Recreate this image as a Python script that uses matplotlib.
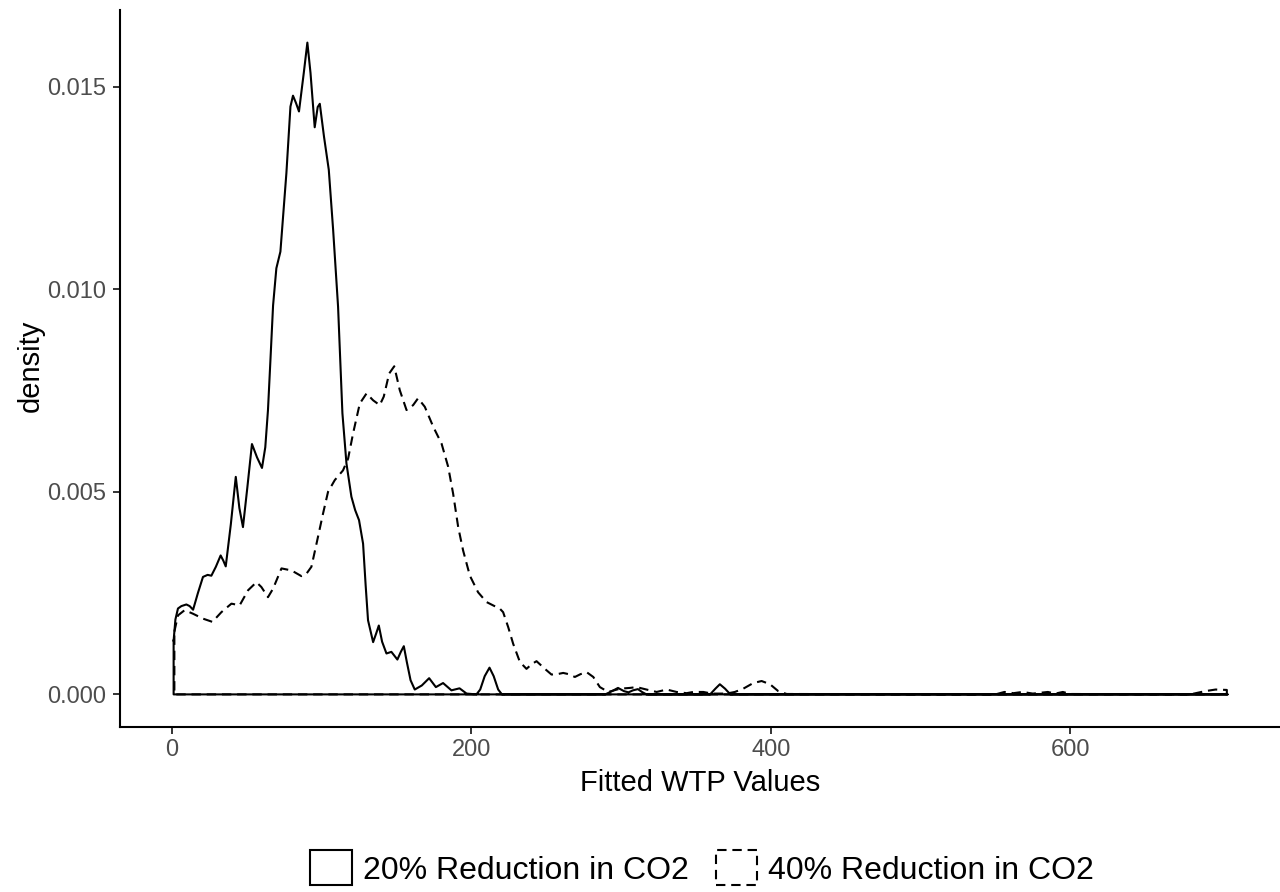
import matplotlib
matplotlib.use("Agg")
import matplotlib.pyplot as plt
from matplotlib.patches import Patch

wtp20_x = [1.3, 2.5, 4.2, 6.5, 9.8, 12, 14.3, 17.5, 20.9, 24, 26.5, 29.5,
           32.7, 34.5, 36.1, 39.5, 42.8, 45.2, 47.6, 50.5, 53.6, 57, 60.3,
           62.5, 64.3, 66, 67.7, 69.9, 72.6, 76.6, 79.3, 81.0, 83, 85.0,
           88.2, 90.6, 92.7, 95.5, 97.5, 98.9, 101.7, 104.9, 107.8, 111.1,
           114.0, 116.7, 120.0, 122.5, 125.1, 127.8, 129.5, 131.1, 134.5,
           136.5, 138.3, 140.5, 143.4, 146.7, 150.7, 153, 155.0, 157, 159.5,
           162.3, 167, 171.9, 176.4, 181.2, 186.8, 192.2, 196.9, 203.5, 206,
           209, 212.2, 215, 218, 220.5, 289.5, 294, 298, 302, 305, 308,
           311.3, 314, 317, 359.5, 363, 366, 369.5, 373, 705]
wtp20_y = [1.33, 1.85, 2.12, 2.18, 2.22, 2.18, 2.09, 2.5, 2.90, 2.95, 2.93,
           3.15, 3.43, 3.3, 3.16, 4.2, 5.37, 4.6, 4.13, 5.1, 6.18, 5.85,
           5.59, 6.1, 7.02, 8.3, 9.6, 10.52, 10.93, 12.87, 14.51, 14.78,
           14.6, 14.39, 15.34, 16.09, 15.34, 14.00, 14.5, 14.58, 13.77,
           12.95, 11.47, 9.57, 6.94, 5.70, 4.88, 4.55, 4.30, 3.72, 2.7, 1.83,
           1.29, 1.5, 1.70, 1.3, 1.01, 1.05, 0.86, 1.05, 1.19, 0.8, 0.35,
           0.12, 0.22, 0.40, 0.18, 0.28, 0.10, 0.15, 0.02, 0.0, 0.12, 0.45,
           0.66, 0.45, 0.12, 0.0, 0.0, 0.08, 0.16, 0.08, 0.05, 0.1, 0.13,
           0.06, 0.0, 0.0, 0.14, 0.25, 0.14, 0.0, 0.0]

wtp40_x = [1.8, 4.2, 8.7, 14.3, 20.9, 27.2, 33.2, 39.9, 45.4, 51.0, 56.6,
           59.9, 64.3, 67.7, 73.3, 80.0, 86.6, 90, 93.3, 96.7, 101.1, 104.4,
           108.9, 114.4, 117.8, 121.1, 125.6, 130.1, 134.5, 138.9, 141.6,
           145.2, 148.6, 152.3, 156.8, 161.2, 164.5, 169, 174.6, 180.2,
           184.6, 187.9, 191.3, 194.6, 199.1, 204.6, 210.2, 215, 219, 221.3,
           224.7, 228, 232.5, 236.9, 240.5, 243.6, 249.2, 253.6, 257.5,
           261.4, 265, 269.2, 273, 277, 281.5, 285.9, 291.5, 299.3, 306,
           310.4, 317, 323.8, 330.5, 337.1, 343.8, 348.2, 355, 360.5, 370.5,
           376, 381.6, 388.3, 393.9, 399.5, 405, 410.6, 550, 556, 562, 568,
           575, 585, 590, 595, 600, 680, 690, 697, 704.5]
wtp40_y = [1.55, 1.95, 2.08, 1.99, 1.87, 1.79, 2.03, 2.24, 2.20, 2.57, 2.77,
           2.65, 2.40, 2.61, 3.11, 3.06, 2.92, 2.98, 3.15, 3.72, 4.47, 5.00,
           5.29, 5.53, 5.82, 6.44, 7.18, 7.43, 7.26, 7.14, 7.35, 7.92, 8.10,
           7.51, 7.02, 7.14, 7.31, 7.10, 6.61, 6.19, 5.62, 4.96, 4.13, 3.55,
           2.93, 2.52, 2.28, 2.19, 2.12, 2.03, 1.66, 1.25, 0.80, 0.63, 0.75,
           0.82, 0.63, 0.49, 0.5, 0.53, 0.5, 0.43, 0.5, 0.55, 0.43, 0.18,
           0.06, 0.14, 0.16, 0.18, 0.12, 0.06, 0.12, 0.06, 0.03, 0.06, 0.06,
           0.02, 0.02, 0.06, 0.14, 0.28, 0.33, 0.25, 0.08, 0.01, 0.0, 0.06,
           0.03, 0.06, 0.02, 0.06, 0.02, 0.06, 0.01, 0.0, 0.08, 0.12, 0.11]

series_labels = ["20% Reduction in CO2", "40% Reduction in CO2"]
x_ticks = [0, 200, 400, 600]
y_ticks = [0.000, 0.005, 0.010, 0.015]

DASHED = (0, (4.5, 2.8))

plt.rcParams["font.family"] = ["Liberation Sans", "DejaVu Sans"]


def outline(xs, ys):
    # closed density outline: curve, then back along the baseline
    px = list(xs) + [xs[-1], xs[0], xs[0]]
    py = [v / 1000 for v in ys] + [0, 0, ys[0] / 1000]
    return px, py


def main():
    fig = plt.figure(figsize=(12.8, 8.92), dpi=100)
    ax = fig.add_axes([120 / 1280, 1 - 727 / 892, 1160 / 1280, 717 / 892])

    px, py = outline(wtp20_x, wtp20_y)
    ax.plot(px, py, color="black", lw=1.5, solid_joinstyle="round")
    px, py = outline(wtp40_x, wtp40_y)
    ax.plot(px, py, color="black", lw=1.5, linestyle=DASHED)

    ax.set_xlim(-34.5, 740)
    ax.set_ylim(-0.000805, 0.016895)
    ax.set_xticks(x_ticks)
    ax.set_xticklabels([str(t) for t in x_ticks])
    ax.set_yticks(y_ticks)
    ax.set_yticklabels([f"{t:.3f}" for t in y_ticks])

    for side in ["top", "right"]:
        ax.spines[side].set_visible(False)
    for side in ["left", "bottom"]:
        ax.spines[side].set_linewidth(1.5)
        ax.spines[side].set_color("black")
    ax.tick_params(length=5, width=1.4, color="#333333", labelsize=17,
                   labelcolor="#4D4D4D", pad=4)
    ax.tick_params(axis="y", pad=5)

    fig.text(700 / 1280, 1 - 783 / 892, "Fitted WTP Values", fontsize=21,
             ha="center", va="center")
    fig.text(31 / 1280, 1 - 366 / 892, "density", fontsize=21,
             rotation=90, ha="center", va="center")

    handles = [
        Patch(facecolor="white", edgecolor="black", linewidth=1.5,
              label=series_labels[0]),
        Patch(facecolor="white", edgecolor="black", linewidth=1.5,
              linestyle=DASHED, label=series_labels[1]),
    ]
    fig.legend(handles=handles, loc="center", ncol=2, frameon=False,
               bbox_to_anchor=(702 / 1280, 1 - 868 / 892), fontsize=23,
               handlelength=1.31, handleheight=1.31, handletextpad=0.34,
               columnspacing=0.85, borderpad=0)

    fig.savefig("out.png", dpi=100, facecolor="white")


if __name__ == "__main__":
    main()
